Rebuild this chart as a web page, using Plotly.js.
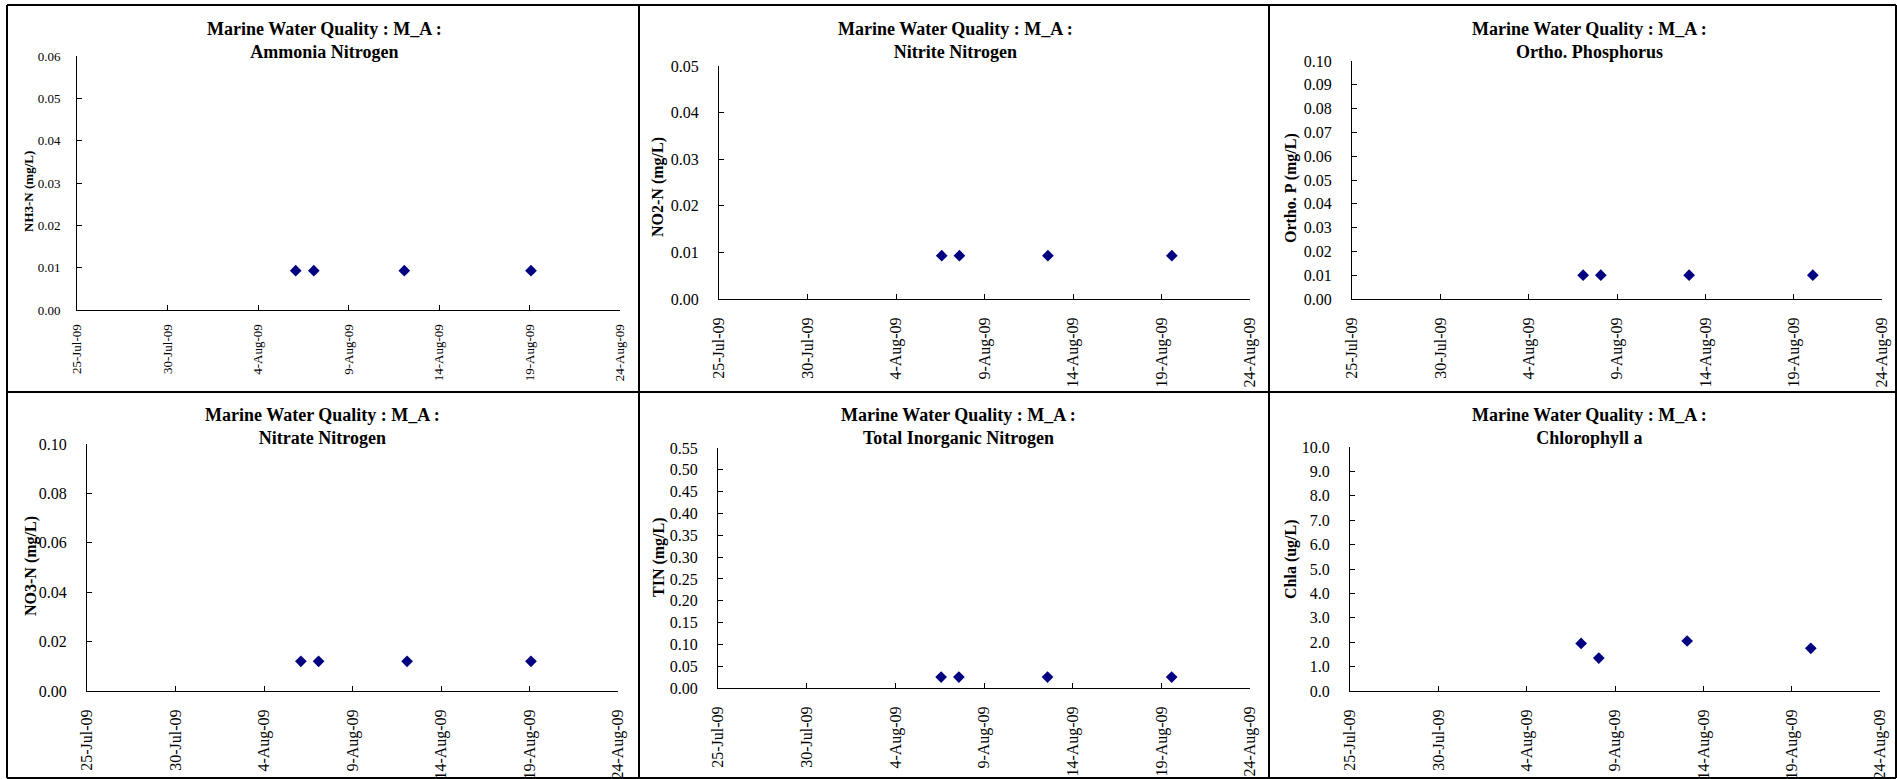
<!DOCTYPE html>
<html>
<head>
<meta charset="utf-8">
<script src="https://cdn.plot.ly/plotly-3.0.1.min.js"></script>
<style>html,body{margin:0;padding:0;background:#fff;}#chart{width:1897px;height:779px;}</style>
</head>
<body>
<div id="chart"></div>
<script>
// ---- data ----
const titleMain = "Marine Water Quality : M_A :";
const panelNames = ["Ammonia Nitrogen", "Nitrite Nitrogen", "Ortho. Phosphorus", "Nitrate Nitrogen", "Total Inorganic Nitrogen", "Chlorophyll a"];
const yTitles = ["NH3-N (mg/L)", "NO2-N (mg/L)", "Ortho. P (mg/L)", "NO3-N (mg/L)", "TIN (mg/L)", "Chla (ug/L)"];

const datesNH3 = ["2009-08-06 02:00", "2009-08-07 02:00", "2009-08-12 02:00", "2009-08-19 02:00"];
const valuesNH3 = [0.0093, 0.0093, 0.0093, 0.0093];
const datesNO2 = ["2009-08-06 14:00", "2009-08-07 14:00", "2009-08-12 14:00", "2009-08-19 14:00"];
const valuesNO2 = [0.0093, 0.0093, 0.0093, 0.0093];
const datesOrthoP = ["2009-08-07 02:00", "2009-08-08 02:00", "2009-08-13 02:00", "2009-08-20 02:00"];
const valuesOrthoP = [0.01, 0.01, 0.01, 0.01];
const datesNO3 = ["2009-08-06 02:00", "2009-08-07 02:00", "2009-08-12 02:00", "2009-08-19 02:00"];
const valuesNO3 = [0.012, 0.012, 0.012, 0.012];
const datesTIN = ["2009-08-06 14:00", "2009-08-07 14:00", "2009-08-12 14:00", "2009-08-19 14:00"];
const valuesTIN = [0.025, 0.025, 0.025, 0.025];
const datesChla = ["2009-08-07 02:00", "2009-08-08 02:00", "2009-08-13 02:00", "2009-08-20 02:00"];
const valuesChla = [1.95, 1.35, 2.05, 1.75];

const xRange = ["2009-07-25", "2009-08-24"];
const yRanges = [[0, 0.06], [0, 0.05], [0, 0.10], [0, 0.10], [0, 0.55], [0, 10]];
const yDticks = [0.01, 0.01, 0.01, 0.02, 0.05, 1];
const yFormats = [".2f", ".2f", ".2f", ".2f", ".2f", ".1f"];

// ---- layout geometry (pixels) ----
const W = 1897, H = 779;
const FONT = "Liberation Serif, Times New Roman, serif";
// plot areas [x0, x1, y0(top), y1(bottom)]
const boxes = [
  [77, 620, 56, 310],
  [719, 1250, 66, 299],
  [1352, 1882, 61, 299],
  [87, 618, 444, 691],
  [718, 1250, 448, 688],
  [1350, 1880, 447, 691]
];
const tickSizes = [13, 16, 16, 16, 16, 16];
const yTitleSizes = [13, 16, 16, 16, 16, 16];
const yTitlePos = [[28, 192], [658, 187], [1291, 188], [31, 566], [659, 557], [1291, 559]];
const titlePos = [[324, 41], [955, 41], [1589, 41], [322, 427], [958, 427], [1589, 427]];

const allDates = [datesNH3, datesNO2, datesOrthoP, datesNO3, datesTIN, datesChla];
const allValues = [valuesNH3, valuesNO2, valuesOrthoP, valuesNO3, valuesTIN, valuesChla];

const px = x => x / W;
const py = y => 1 - y / H;

const data = [];
const layout = {
  width: W, height: H,
  margin: {l: 0, r: 0, t: 0, b: 0},
  paper_bgcolor: "#ffffff",
  plot_bgcolor: "#ffffff",
  showlegend: false,
  font: {family: FONT, color: "#000000"},
  annotations: [],
  shapes: []
};

for (let i = 0; i < 6; i++) {
  const n = i + 1;
  const xa = n === 1 ? "xaxis" : "xaxis" + n;
  const ya = n === 1 ? "yaxis" : "yaxis" + n;
  const b = boxes[i];
  data.push({
    type: "scatter", mode: "markers",
    x: allDates[i], y: allValues[i],
    xaxis: "x" + (n === 1 ? "" : n), yaxis: "y" + (n === 1 ? "" : n),
    marker: {symbol: "diamond", size: 9, color: "#000080", line: {width: 0}},
    cliponaxis: false
  });
  layout[xa] = {
    domain: [px(b[0]), px(b[1])],
    anchor: "y" + (n === 1 ? "" : n),
    type: "date",
    range: xRange,
    tick0: "2009-07-25",
    dtick: 5 * 86400000,
    tickformat: "%-d-%b-%y",
    tickangle: -90,
    ticks: "inside", ticklen: 5, tickcolor: "#000", tickwidth: 1,
    ticklabelstandoff: i === 0 ? 8 : 11,
    showline: true, linecolor: "#000", linewidth: 1,
    showgrid: false, zeroline: false,
    tickfont: {family: FONT, size: tickSizes[i], color: "#000"},
    fixedrange: true
  };
  layout[ya] = {
    domain: [py(b[3]), py(b[2])],
    anchor: "x" + (n === 1 ? "" : n),
    range: yRanges[i],
    dtick: yDticks[i], tick0: 0,
    tickformat: yFormats[i],
    ticks: "inside", ticklen: 5, tickcolor: "#000", tickwidth: 1,
    ticklabelstandoff: i === 0 ? 13 : 16,
    showline: true, linecolor: "#000", linewidth: 1,
    showgrid: false, zeroline: false,
    tickfont: {family: FONT, size: tickSizes[i], color: "#000"},
    fixedrange: true
  };
  layout.annotations.push({
    xref: "paper", yref: "paper",
    x: px(titlePos[i][0]), y: py(titlePos[i][1]),
    xanchor: "center", yanchor: "middle",
    text: "<b>" + titleMain + "<br>" + panelNames[i] + "</b>",
    showarrow: false,
    font: {family: FONT, size: 18, color: "#000"}
  });
  layout.annotations.push({
    xref: "paper", yref: "paper",
    x: px(yTitlePos[i][0]), y: py(yTitlePos[i][1]),
    xanchor: "center", yanchor: "middle",
    textangle: -90,
    text: "<b>" + yTitles[i] + "</b>",
    showarrow: false,
    font: {family: FONT, size: yTitleSizes[i], color: "#000"}
  });
}

// panel borders
const borderX = [7, 639, 1269, 1896];
const borderY = [5, 392, 778];
const lineStyle = {color: "#000", width: 2};
borderX.forEach(x => layout.shapes.push({type: "line", xref: "paper", yref: "paper", x0: px(x), x1: px(x), y0: py(borderY[0]), y1: py(borderY[2]), line: lineStyle}));
borderY.forEach(y => layout.shapes.push({type: "line", xref: "paper", yref: "paper", x0: px(borderX[0]), x1: px(borderX[3]), y0: py(y), y1: py(y), line: lineStyle}));

Plotly.newPlot("chart", data, layout, {staticPlot: true, displayModeBar: false});
</script>
</body>
</html>
